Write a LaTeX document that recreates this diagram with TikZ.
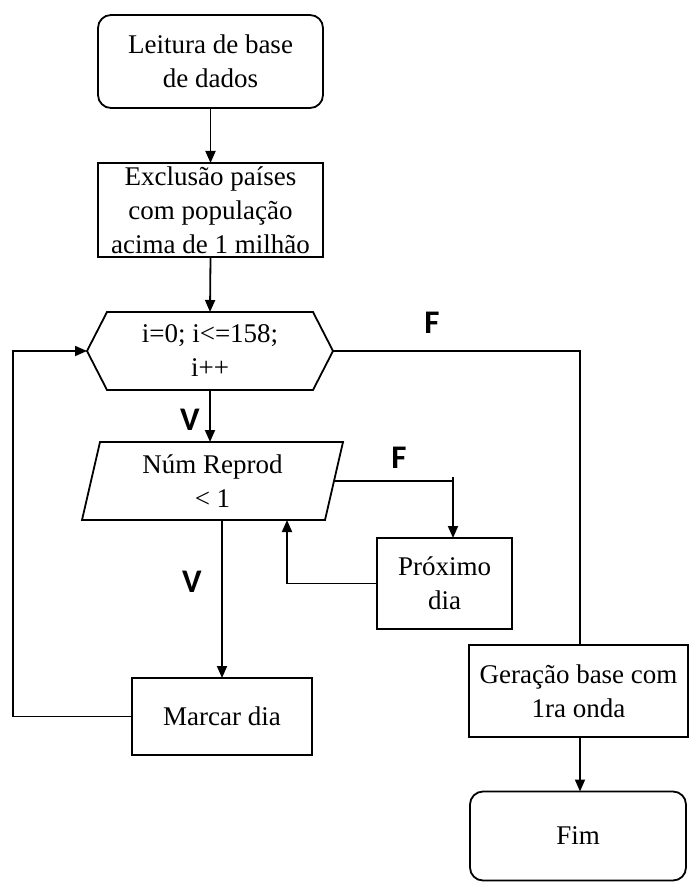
\documentclass[tikz,border=0pt]{standalone}
\usepackage{fontspec}
\setmainfont{Liberation Serif}
\newfontfamily\lblfont{Carlito}
\usetikzlibrary{arrows.meta,calc}
\begin{document}
\begin{tikzpicture}[x=1pt,y=-1pt,
  line width=1.8pt,
  txt/.style={font=\fontsize{27}{34}\selectfont, align=center, inner sep=0pt, outer sep=0pt},
  procbox/.style={txt, draw, rectangle},
  termbox/.style={txt, draw, rounded corners=13pt},
  lbl/.style={font=\lblfont\bfseries\fontsize{33}{33}\selectfont, inner sep=0pt},
  arr/.style={-{Triangle[length=12pt,width=10pt]}}
]
\useasboundingbox (0,0) rectangle (688,882);

\node[termbox, minimum width=225pt, minimum height=93pt] (lei) at (210.5,61.5) {Leitura de base\\de dados};
\node[procbox, minimum width=225pt, minimum height=94pt] (exc) at (210.5,210) {Exclusão países\\com população\\acima de 1 milhão};
\node[txt, minimum width=246pt, minimum height=78pt] (loop) at (210,351) {i=0; i<=158;\\i++};
\draw ([xshift=0pt]loop.west) -- ([xshift=20pt]loop.north west) -- ([xshift=-20pt]loop.north east)
  -- (loop.east) -- ([xshift=-20pt]loop.south east) -- ([xshift=20pt]loop.south west) -- cycle;
\node[txt, minimum width=261pt, minimum height=78pt] (np) at (212.5,481) {Núm Reprod\\< 1};
\draw ([xshift=18pt]np.north west) -- (np.north east) -- ([xshift=-18pt]np.south east)
  -- (np.south west) -- cycle;
\node[procbox, minimum width=135pt, minimum height=91pt] (prox) at (444.5,583.5) {Próximo\\dia};
\node[procbox, minimum width=180pt, minimum height=77pt] (marc) at (222,716.5) {Marcar dia};
\node[procbox, minimum width=219pt, minimum height=92pt] (ger) at (578.5,691) {Geração base com\\1ra onda};
\node[termbox, minimum width=216pt, minimum height=89pt] (fim) at (578,836) {Fim};

\coordinate (lb) at (13,0);
\coordinate (npR) at ([xshift=-9pt]np.east);
\coordinate (pn) at ([xshift=8.5pt]prox.north);
\coordinate (bk) at ([xshift=74.5pt]np.south);
\coordinate (fx) at (580,0);

\draw[arr] (lei.south) -- (exc.north);
\draw[arr] (exc.south) -- (loop.north);
\draw (loop.east) -- (loop.east -| fx) -- (fx |- ger.north);
\draw[arr] (loop.south) -- (loop.south |- np.north);
\draw (npR) -- (npR -| pn);
\draw[arr] ([yshift=4pt]npR -| pn) -- (pn);
\draw[arr] (prox.west) -- (prox.west -| bk) -- (bk);
\draw[arr] (np.south -| marc.north) -- (marc.north);
\draw[arr] (marc.west) -- (marc.west -| lb) |- (loop.west);
\draw[arr] (ger.south -| fx) -- (fim.north -| fx);

\node[lbl] (f1) at (432,323) {F};
\node[lbl] (f2) at (399,458) {F};
\node[lbl] (v1) at (190,420) {V};
\node[lbl] (v2) at (192,582) {V};
\end{tikzpicture}
\end{document}
